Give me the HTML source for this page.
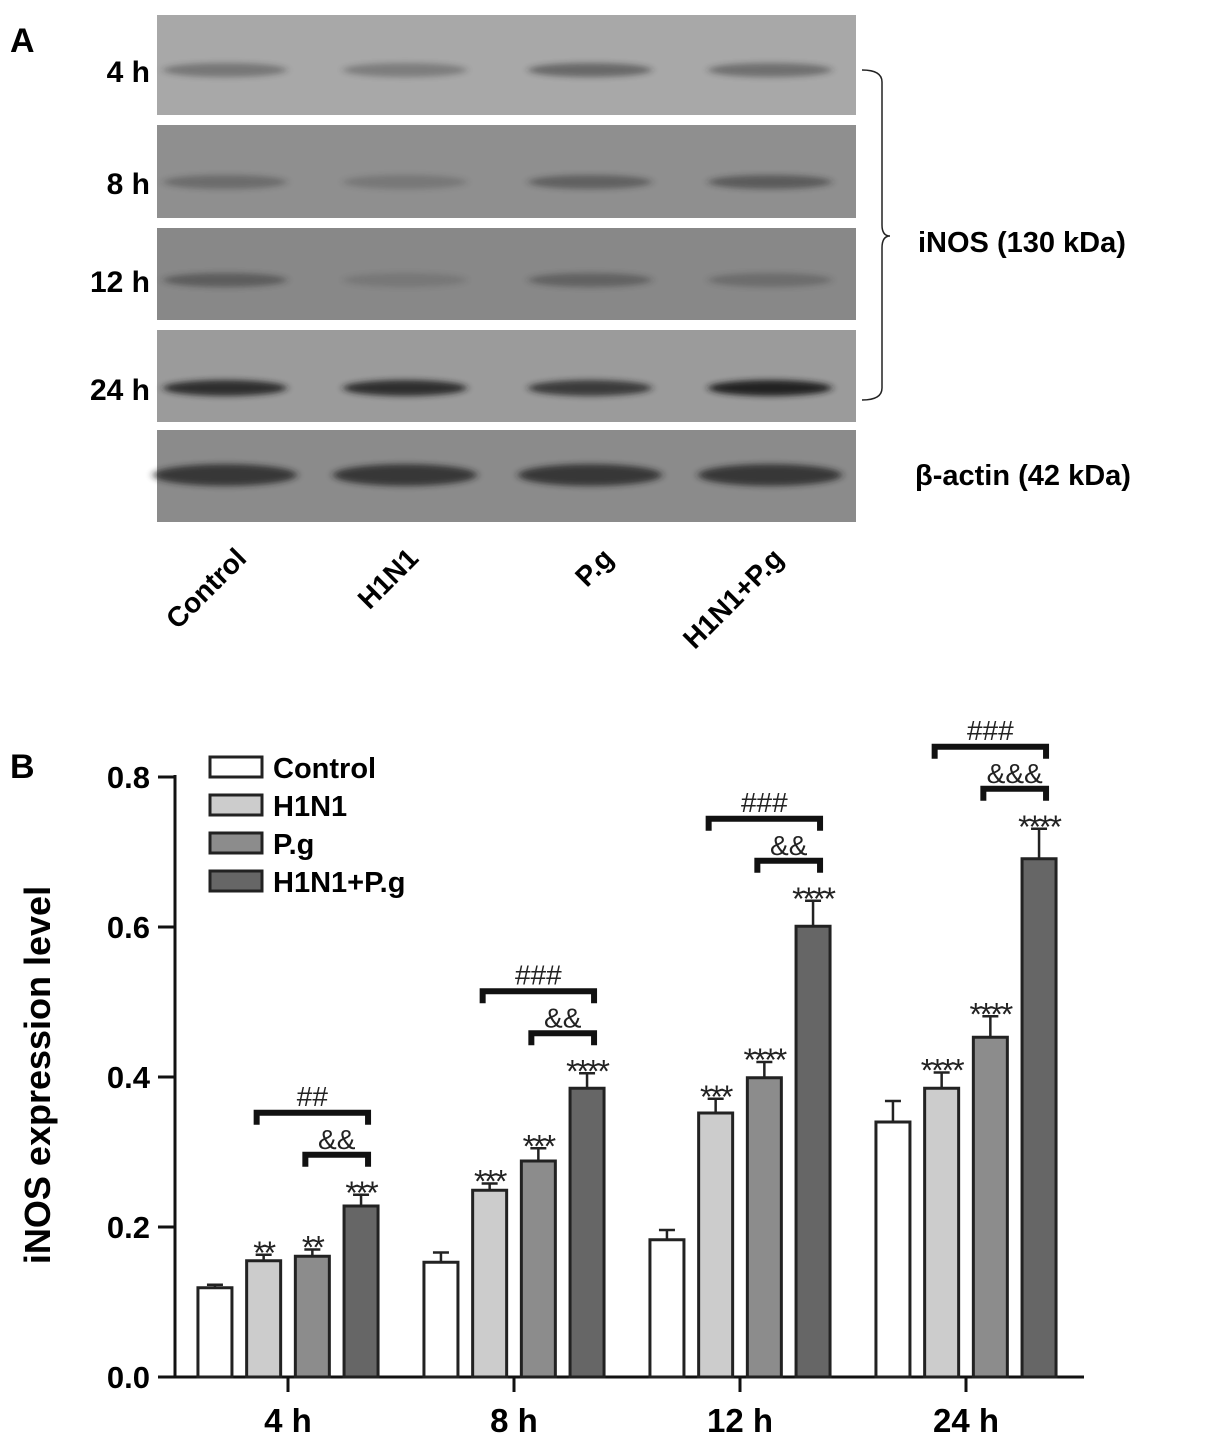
<!DOCTYPE html>
<html><head><meta charset="utf-8"><style>
body{margin:0;background:#fff;width:1205px;height:1454px;overflow:hidden}
svg{display:block;font-family:"Liberation Sans",Arial,sans-serif}
</style></head><body>
<svg id="fig" width="1205" height="1454" viewBox="0 0 1205 1454">
<defs><filter id="blur" x="-20%" y="-100%" width="140%" height="300%"><feGaussianBlur stdDeviation="4 3"/></filter></defs>
<g id="panelA">
<text x="10" y="52" font-size="34" font-weight="bold">A</text>
</g>
<g id="panelB">
<text x="10" y="778" font-size="34" font-weight="bold">B</text>
</g>
</svg>
<script>
const NS='http://www.w3.org/2000/svg';
function mk(tag,attrs,parent,text){const e=document.createElementNS(NS,tag);for(const k in attrs)e.setAttribute(k,attrs[k]);if(text!==undefined)e.textContent=text;parent.appendChild(e);return e;}

// ---- Panel A data ----
const blotRows=['4 h','8 h','12 h','24 h'];
const laneNames=['Control','H1N1','P.g','H1N1+P.g'];
const A=document.getElementById('panelA');
const rowY=[[15,115],[125,218],[228,320],[330,422],[430,522]];
const rowFill=['#a8a8a8','#8f8f8f','#888888','#9b9b9b','#8b8b8b'];
const bandInt=[[0.35,0.3,0.45,0.4],[0.3,0.2,0.4,0.45],[0.4,0.15,0.35,0.25],[0.85,0.85,0.75,0.95],[0.75,0.75,0.75,0.75]];
const laneX=[225,405,590,770];
rowY.forEach((r,i)=>{
  const p=mk('rect',{x:157,y:r[0],width:699,height:r[1]-r[0],fill:rowFill[i]},A);
  
  
  const by=i<4?[70,182,280,388][i]:475;
  laneX.forEach((lx,j)=>{
    const b=mk('ellipse',{cx:lx,cy:by,rx:i==4?72:62,ry:i==4?11:(i==3?8:7),fill:'#1e1e1e',opacity:bandInt[i][j],filter:'url(#blur)'},A);
    
    
  });
  if(i<4){const t=mk('text',{x:150,y:by+12,'font-size':30,'font-weight':'bold','text-anchor':'end'},A,blotRows[i]);
  
  }
});
laneNames.forEach((n,j)=>{
  const ax=[248,420,615,785][j],ay=560;
  const t=mk('text',{x:ax,y:ay,'font-size':28,'font-weight':'bold','text-anchor':'end',transform:`rotate(-45 ${ax} ${ay})`},A,n);
  
  
});
const br=mk('path',{d:'M862,70 Q882,70 882,82 L882,225 Q882,236 890,236 Q882,236 882,248 L882,388 Q882,400 862,400',fill:'none',stroke:'#222','stroke-width':1.5},A);


let t1=mk('text',{x:918,y:252,'font-size':29,'font-weight':'bold'},A,'iNOS (130  kDa)');


let t2=mk('text',{x:915,y:485,'font-size':29,'font-weight':'bold'},A,'β-actin (42  kDa)');



// ---- Panel B data ----
const categories=['4 h','8 h','12 h','24 h'];
const seriesNames=['Control','H1N1','P.g','H1N1+P.g'];
const controlVals=[0.119,0.153,0.183,0.340];
const h1n1Vals=[0.155,0.249,0.352,0.385];
const pgVals=[0.161,0.288,0.399,0.453];
const comboVals=[0.228,0.385,0.601,0.691];
const controlErr=[0.004,0.013,0.013,0.028];
const h1n1Err=[0.008,0.009,0.019,0.021];
const pgErr=[0.009,0.017,0.021,0.028];
const comboErr=[0.015,0.020,0.034,0.040];
const starLabels=[['','**','**','***'],['','***','***','****'],['','***','****','****'],['','****','****','****']];
const hashLabels=['##','###','###','###'];
const ampLabels=['&&','&&','&&','&&&'];
const yTicks=[0.0,0.2,0.4,0.6,0.8];
const yTickLabels=['0.0','0.2','0.4','0.6','0.8'];

const B=document.getElementById('panelB');
const fills=['#ffffff','#cccccc','#8c8c8c','#666666'];
const vals=[controlVals,h1n1Vals,pgVals,comboVals];
const errs=[controlErr,h1n1Err,pgErr,comboErr];
const y0=1377,ppu=750;
function yS(v){return y0-v*ppu;}
function xC(g){return 288+g*226;}
function xB(g,s){return xC(g)+(s-1.5)*48.7-17;}

let ya=mk('line',{x1:175,y1:yS(0.8)-2,x2:175,y2:y0,stroke:'#111','stroke-width':3},B);


let xa=mk('line',{x1:158,y1:y0,x2:1084,y2:y0,stroke:'#111','stroke-width':3},B);


yTicks.forEach((v,i)=>{
  const tk=mk('line',{x1:158,y1:yS(v),x2:175,y2:yS(v),stroke:'#111','stroke-width':3},B);
  
  
  const tl=mk('text',{x:150,y:yS(v)+11,'font-size':31,'font-weight':'bold','text-anchor':'end'},B,yTickLabels[i]);
  
  
});
let yt=mk('text',{x:50,y:1075,'font-size':36,'font-weight':'bold','text-anchor':'middle',transform:'rotate(-90 50 1075)'},B,'iNOS expression level');



categories.forEach((c,g)=>{
  const tk=mk('line',{x1:xC(g),y1:y0,x2:xC(g),y2:y0+15,stroke:'#111','stroke-width':3},B);
  
  
  const tl=mk('text',{x:xC(g),y:1432,'font-size':33,'font-weight':'bold','text-anchor':'middle'},B,c);
  
  
  for(let s=0;s<4;s++){
    const v=vals[s][g],e=errs[s][g],x=xB(g,s),cx=x+17;
    const eb=mk('path',{d:`M${cx},${yS(v)} L${cx},${yS(v+e)} M${cx-8},${yS(v+e)} L${cx+8},${yS(v+e)}`,stroke:'#222','stroke-width':2.5,fill:'none'},B);
    
    
    const r=mk('rect',{x:x,y:yS(v),width:34,height:v*ppu,fill:fills[s],stroke:'#222','stroke-width':3},B);
    
    
    if(starLabels[g][s]){
      const st=mk('text',{x:cx,y:yS(v+e)+9,'font-size':32,'text-anchor':'middle',fill:'#222','letter-spacing':'-2'},B,starLabels[g][s]);
      
      
    }
  }
  const top=yS(comboVals[g]+comboErr[g]);
  const innerY=top-40, outerY=innerY-42;
  const x1o=xB(g,1)+10,x1i=xB(g,2)+10,x2=xB(g,3)+24;
  const ob=mk('path',{d:`M${x1o},${outerY+12} L${x1o},${outerY} L${x2},${outerY} L${x2},${outerY+12}`,stroke:'#111','stroke-width':6,fill:'none'},B);
  
  
  const ib=mk('path',{d:`M${x1i},${innerY+12} L${x1i},${innerY} L${x2},${innerY} L${x2},${innerY+12}`,stroke:'#111','stroke-width':6,fill:'none'},B);
  
  
  const ht=mk('text',{x:(x1o+x2)/2,y:outerY-7,'font-size':28,'text-anchor':'middle',fill:'#222'},B,hashLabels[g]);
  
  
  const at=mk('text',{x:(x1i+x2)/2,y:innerY-6,'font-size':28,'text-anchor':'middle',fill:'#222'},B,ampLabels[g]);
  
  
});

seriesNames.forEach((n,s)=>{
  const ly=757+s*38;
  const b=mk('rect',{x:210,y:ly,width:52,height:20,fill:fills[s],stroke:'#222','stroke-width':3},B);
  
  
  const t=mk('text',{x:273,y:ly+21,'font-size':29,'font-weight':'bold'},B,n);
  
  
});
</script>
</body></html>
